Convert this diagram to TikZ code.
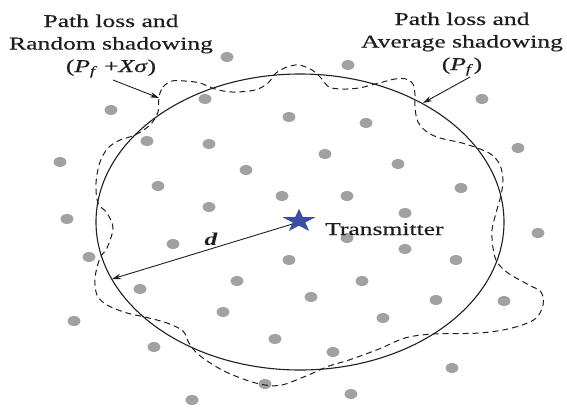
\documentclass[tikz,border=0pt]{standalone}
\usepackage{fontspec}
\usepackage{graphicx}
\setmainfont{Liberation Serif}[UprightFeatures={FakeBold=0.35}, ItalicFeatures={FakeBold=0.35}]
\usetikzlibrary{shapes.geometric,arrows.meta}
\definecolor{dotgray}{RGB}{160,160,165}
\definecolor{starblue}{RGB}{58,78,165}
\definecolor{ink}{RGB}{30,30,30}
\newcommand{\hstretch}[1]{\scalebox{1.42}[1]{#1}}
\begin{document}
\begin{tikzpicture}[x=1pt,y=-1pt,
  lbl/.style={inner sep=0pt, text=ink, font=\fontsize{18}{22.5}\selectfont},
  arr/.style={draw=ink, line width=0.9pt, -{Stealth[length=9pt,width=5.5pt]}},
  dotmark/.style={fill=dotgray},
  ring/.style={draw=ink, line width=1.1pt},
  shadow/.style={draw=ink, line width=1pt, dash pattern=on 6pt off 4pt}]
\useasboundingbox (0,0) rectangle (567,408);

% receivers
\foreach \x/\y in {227/57,348/65,205/99,111/110,482/99,289/117,366/123,147/141,
  209/144,518/148,60/162,325/154,398/164,246/170,158/186,461/188,282/196,
  347/196,209/207,405/213,67/219,538/233,347/238,173/244,405/249,89/257,
  289/260,456/260,237/281,362/281,140/289,311/297,436/300,504/301,223/312,
  383/318,74/321,275/339,154/347,333/352,452/368,265/384,351/394,192/400}
  \fill[dotmark] (\x,\y) ellipse [x radius=6.4pt, y radius=5pt];

% average shadowing circle
\draw[ring] (300,222) ellipse [x radius=204pt, y radius=148pt];

% random shadowing contour
\draw[shadow] plot[smooth cycle, tension=0.55] coordinates {
  (159,97) (163,87) (172,81) (185,81) (200,83) (215,89) (232,92) (255,90)
  (268,83) (276,73) (287,67) (299,65) (312,70) (321,78) (329,87) (342,89)
  (359,88) (379,83) (395,79) (406,79) (413,84) (415,95) (415,108) (418,122)
  (427,132) (440,138) (462,143) (480,149) (492,155) (500,165) (503,180)
  (501,195) (496,213) (492,230) (493,248) (497,262) (508,273) (527,284)
  (541,292) (543,305) (535,319) (512,328) (480,333) (433,334) (405,338)
  (379,349) (349,360) (329,366) (306,376) (282,385) (265,385) (246,380)
  (222,370) (199,355) (189,343) (183,331) (167,323) (145,317) (127,313)
  (107,305) (97,295) (95,278) (100,258) (107,248) (113,228) (107,213)
  (98,203) (96,183) (100,162) (108,148) (120,140) (135,135) (150,125)
  (158,112) };

% radius arrow
\coordinate (txc) at (299,222);
\coordinate (dend) at (112,279);
\draw[arr] (txc) -- (dend);

% label arrows
\coordinate (aLs) at (113,80);
\coordinate (aLe) at (159,98);
\coordinate (aRs) at (470,77);
\coordinate (aRe) at (423,103);
\draw[arr] (aLs) -- (aLe);
\draw[arr] (aRs) -- (aRe);

% transmitter star
\begin{scope}[shift={(299,221)}, xscale=1.41]
  \node[star, star points=5, star point ratio=2.618, fill=starblue,
        minimum size=24.5pt, inner sep=0pt, transform shape] (tx) at (0,0) {};
\end{scope}

% texts
\node[lbl, anchor=base] (lblL) at (111,27)
  {\hstretch{\begin{tabular}[t]{@{}c@{}}Path loss and\\Random shadowing\\(\textit{P}\textsubscript{\textit{f}} +\textit{Xσ})\end{tabular}}};
\node[lbl, anchor=base] (lblR) at (462,25)
  {\hstretch{\begin{tabular}[t]{@{}c@{}}Path loss and\\Average shadowing\\(\textit{P}\textsubscript{\textit{f}})\end{tabular}}};
\node[lbl, anchor=base west] (txl) at (325,235) {\hstretch{Transmitter}};
\node[lbl, font=\fontsize{18}{22}\selectfont\bfseries\itshape] (dl) at (211,239) {\hstretch{d}};
\end{tikzpicture}
\end{document}
